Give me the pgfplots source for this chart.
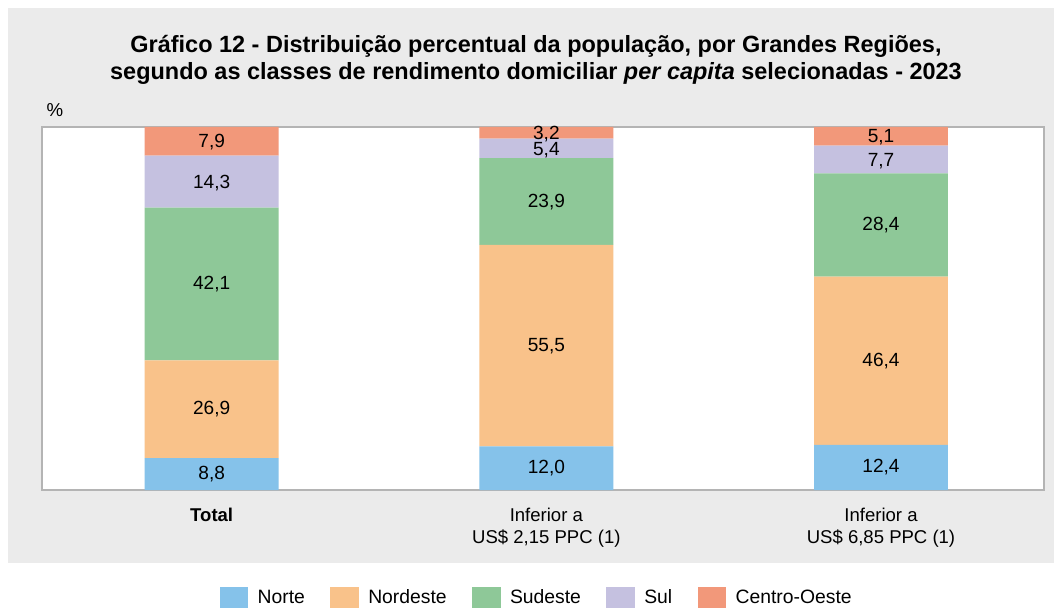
\documentclass[border=0pt]{standalone}
\usepackage{pgfplots}
\pgfplotsset{compat=1.18}
\usepackage{pgfplotstable}
\usepackage{fontspec}
\setmainfont{Liberation Sans}
\definecolor{cNorte}{HTML}{85C2EA}
\definecolor{cNordeste}{HTML}{F9C28A}
\definecolor{cSudeste}{HTML}{8EC898}
\definecolor{cSul}{HTML}{C5C1E0}
\definecolor{cCO}{HTML}{F2987A}
\definecolor{bggray}{HTML}{EBEBEB}
\definecolor{boxgray}{HTML}{B4B4B4}

\pgfplotstableread{
x norte nordeste sudeste sul co
0 8.8 26.9 42.1 14.3 7.9
1 12.0 55.5 23.9 5.4 3.2
2 12.4 46.4 28.4 7.7 5.1
}\data

\begin{document}
\begin{tikzpicture}[x=0.75pt,y=0.75pt]
\path (0,0) rectangle (1054,607);
\fill[bggray] (8,44) rectangle (1054,599);
\node[font=\fontsize{17.6}{21}\selectfont\bfseries] at (536,561) {Gráfico 12 - Distribuição percentual da população, por Grandes Regiões,};
\node[font=\fontsize{17.6}{21}\selectfont\bfseries] at (536,534) {segundo as classes de rendimento domiciliar \textit{per capita} selecionadas - 2023};
\node[font=\fontsize{14}{16}\selectfont] at (55,497) {\%};

\begin{axis}[
  at={(31.5pt,87.75pt)}, anchor=south west,
  scale only axis, width=751.5pt, height=272.25pt,
  xmin=-0.507, xmax=2.487, ymin=0, ymax=100,
  ybar stacked, bar width=0.4,
  axis line style={draw=boxgray, line width=1.3pt},
  axis background/.style={fill=white},
  ytick=\empty, xtick=data, major tick length=0pt,
  xticklabels={\textbf{Total}, {Inferior a\\US\$ 2,15 PPC (1)}, {Inferior a\\US\$ 6,85 PPC (1)}},
  xticklabel style={align=center, font=\fontsize{13.9}{16.5}\selectfont, yshift=-10pt},
  legend columns=5,
  legend style={at={(0.494,-0.297)}, anchor=center, draw=none, fill=none,
    font=\fontsize{14.5}{16}\selectfont,
    /tikz/every odd column/.append style={column sep=5pt},
    /tikz/every even column/.append style={column sep=17pt}},
  legend image code/.code={\fill[#1] (0pt,-8pt) rectangle (21.5pt,8pt);},
]
\addplot[fill=cNorte, draw=none] table[x=x,y=norte] \data;
\addplot[fill=cNordeste, draw=none] table[x=x,y=nordeste] \data;
\addplot[fill=cSudeste, draw=none] table[x=x,y=sudeste] \data;
\addplot[fill=cSul, draw=none] table[x=x,y=sul] \data;
\addplot[fill=cCO, draw=none] table[x=x,y=co] \data;
\legend{Norte, Nordeste, Sudeste, Sul, Centro-Oeste}
\end{axis}

\begin{axis}[
  at={(31.5pt,87.75pt)}, anchor=south west,
  scale only axis, width=751.5pt, height=272.25pt,
  xmin=-0.507, xmax=2.487, ymin=0, ymax=100,
  hide axis, clip=false,
  point meta=explicit,
  nodes near coords,
  nodes near coords style={anchor=center, inner sep=0.5pt, font=\fontsize{14.3}{15}\selectfont,
    /pgf/number format/.cd, fixed, fixed zerofill, precision=1, use comma, assume math mode=true},
]
\addplot[only marks, mark=none] table[x=x, y expr=\thisrow{norte}/2, meta=norte] \data;
\addplot[only marks, mark=none] table[x=x, y expr=\thisrow{norte}+\thisrow{nordeste}/2, meta=nordeste] \data;
\addplot[only marks, mark=none] table[x=x, y expr=\thisrow{norte}+\thisrow{nordeste}+\thisrow{sudeste}/2, meta=sudeste] \data;
\addplot[only marks, mark=none, every node near coord/.append style={/tikz/yshift=-1.2pt}] table[x=x, y expr=\thisrow{norte}+\thisrow{nordeste}+\thisrow{sudeste}+\thisrow{sul}/2, meta=sul] \data;
\addplot[only marks, mark=none, every node near coord/.append style={/tikz/yshift=-0.6pt}] table[x=x, y expr=\thisrow{norte}+\thisrow{nordeste}+\thisrow{sudeste}+\thisrow{sul}+\thisrow{co}/2, meta=co] \data;
\end{axis}
\end{tikzpicture}
\end{document}
